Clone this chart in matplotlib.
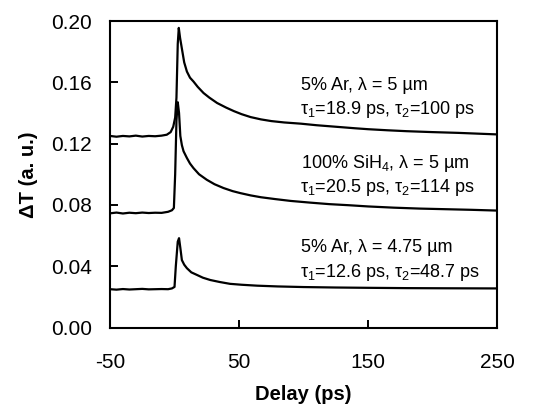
import matplotlib
matplotlib.use("Agg")
from matplotlib import pyplot as plt
from matplotlib.ticker import FixedLocator, FixedFormatter

plt.rcParams['font.family'] = ['Liberation Sans', 'DejaVu Sans']
plt.rcParams['mathtext.fontset'] = 'custom'
plt.rcParams['mathtext.rm'] = 'Liberation Sans'
plt.rcParams['mathtext.it'] = 'Liberation Sans'
plt.rcParams['mathtext.bf'] = 'Liberation Sans:bold'

# 5% Ar, lambda = 5 um (top trace)
delay_ar5 = [-50, -45, -40, -35, -30, -25, -20, -15, -10, -6, -3, -1, 0.5, 1.5, 2.5, 3.3,
             4.3, 5.7, 7.5, 9.6, 12, 14.7, 18, 22.5, 27, 33, 40, 46, 52, 59, 67, 75,
             85, 98, 110, 125, 140, 150, 165, 180, 200, 220, 235, 250]
dT_ar5 = [0.1250, 0.1245, 0.1250, 0.1247, 0.1252, 0.1246, 0.1250, 0.1248, 0.1252, 0.1258, 0.1275,
          0.1310, 0.1370, 0.1500, 0.1850, 0.1955, 0.1890, 0.1820, 0.1730, 0.1670, 0.1630, 0.1605,
          0.1570, 0.1530, 0.1500, 0.1465, 0.1435, 0.1412, 0.1392, 0.1373, 0.1358, 0.1347,
          0.1338, 0.1330, 0.1320, 0.1310, 0.1300, 0.1294, 0.1287, 0.1281, 0.1275, 0.1270,
          0.1265, 0.1260]

# 100% SiH4, lambda = 5 um (middle trace)
delay_sih4 = [-50, -45, -40, -35, -30, -25, -20, -15, -10, -5, -2, -0.5, 0.5, 1.5, 2.5, 3.5,
              4.5, 5.7, 7, 9.6, 12, 14.7, 19, 25, 31, 38, 45, 51, 59, 67, 78, 90, 105,
              120, 135, 150, 170, 190, 210, 230, 250]
dT_sih4 = [0.0745, 0.0750, 0.0744, 0.0749, 0.0746, 0.0750, 0.0747, 0.0749, 0.0748, 0.0755, 0.0765,
           0.0780, 0.1000, 0.1350, 0.1470, 0.1400, 0.1250, 0.1190, 0.1150, 0.1106, 0.1070,
           0.1040, 0.1000, 0.0964, 0.0935, 0.0910, 0.0890, 0.0877, 0.0862, 0.0850, 0.0838,
           0.0826, 0.0815, 0.0805, 0.0798, 0.0790, 0.0782, 0.0776, 0.0772, 0.0768, 0.0763]

# 5% Ar, lambda = 4.75 um (bottom trace)
delay_ar475 = [-50, -45, -40, -35, -30, -25, -20, -15, -10, -5, -2, 0, 1, 2.5, 3.5, 4.5,
               5.7, 7.5, 9.6, 13, 17.4, 22, 27.7, 35, 43, 52, 64, 80, 100, 125, 150,
               180, 210, 250]
dT_ar475 = [0.0250, 0.0247, 0.0251, 0.0248, 0.0250, 0.0252, 0.0249, 0.0250, 0.0251, 0.0250,
            0.0255, 0.0265, 0.0400, 0.0560, 0.0583, 0.0520, 0.0440, 0.0410, 0.0387, 0.0360,
            0.0343, 0.0325, 0.0310, 0.0297, 0.0285, 0.0279, 0.0273, 0.0268, 0.0264, 0.0261,
            0.0259, 0.0257, 0.0256, 0.0255]

labels = [
    ("5% Ar, λ = 5 µm", "τ$_1$=18.9 ps, τ$_2$=100 ps"),
    ("100% SiH$_4$, λ = 5 µm", "τ$_1$=20.5 ps, τ$_2$=114 ps"),
    ("5% Ar, λ = 4.75 µm", "τ$_1$=12.6 ps, τ$_2$=48.7 ps"),
]

xticks = [-50, 50, 150, 250]
xticklabels = ["-50", "50", "150", "250"]
yticks = [0.00, 0.04, 0.08, 0.12, 0.16, 0.20]
yticklabels = ["0.00", "0.04", "0.08", "0.12", "0.16", "0.20"]

fig = plt.figure(figsize=(5.33, 4.07), dpi=100)
ax = fig.add_axes([0.2064, 0.1953, 0.7262, 0.7531])

for x, y in [(delay_ar5, dT_ar5), (delay_sih4, dT_sih4), (delay_ar475, dT_ar475)]:
    ax.plot(x, y, color='black', lw=1.6)

ax.set_xlim(-50, 250)
ax.set_ylim(0, 0.20)
ax.xaxis.set_major_locator(FixedLocator(xticks))
ax.xaxis.set_major_formatter(FixedFormatter(xticklabels))
ax.yaxis.set_major_locator(FixedLocator(yticks))
ax.yaxis.set_major_formatter(FixedFormatter(yticklabels))
ax.tick_params(direction='in', length=5.5, width=1.4, labelsize=15)
ax.tick_params(axis='x', pad=18)
ax.tick_params(axis='y', pad=13)
for s in ax.spines.values():
    s.set_linewidth(1.5)

ax.set_xlabel("Delay (ps)", fontsize=14.5, fontweight='bold', labelpad=10)
ax.set_ylabel("ΔT (a. u.)", fontsize=14.5, fontweight='bold', labelpad=9)

# annotation text, one block per trace
text_y = [(0.1578, 0.1422), (0.1069, 0.0912), (0.0520, 0.0356)]
for (l1, l2), (y1, y2) in zip(labels, text_y):
    ax.text(98, y1, l1, fontsize=13, va='center', ha='left')
    ax.text(97, y2, l2, fontsize=13, va='center', ha='left')

fig.savefig("out.png", dpi=100)
